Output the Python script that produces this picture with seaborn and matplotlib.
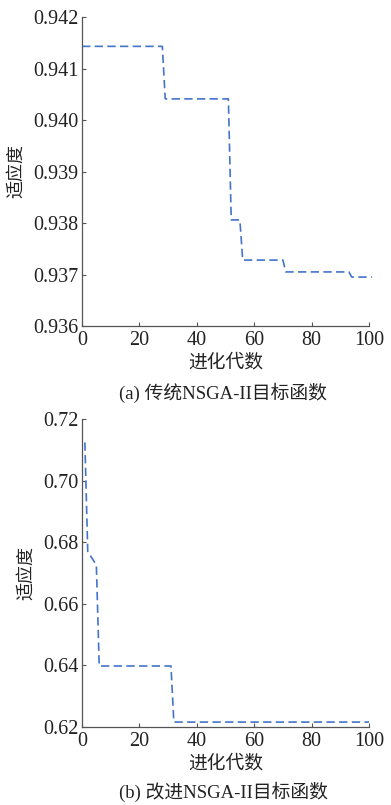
import matplotlib
matplotlib.use("Agg")
import matplotlib.pyplot as plt
import seaborn as sns
import pandas as pd

# Panel (a): traditional NSGA-II (step corner points)
gen_a = [0, 28, 29, 51, 52, 55, 56, 70, 71, 93, 94, 101]
fit_a = [0.94143, 0.94143, 0.94041, 0.94041, 0.93806, 0.93806,
         0.93728, 0.93728, 0.93705, 0.93705, 0.93695, 0.93695]

# Panel (b): improved NSGA-II
gen_b = [1, 2, 5, 6, 31, 32, 100]
fit_b = [0.7124, 0.6770, 0.6726, 0.6398, 0.6398, 0.6216, 0.6216]

xticks = [0, 20, 40, 60, 80, 100]
yticks_a = [0.936, 0.937, 0.938, 0.939, 0.940, 0.941, 0.942]
yticks_b = [0.62, 0.64, 0.66, 0.68, 0.70, 0.72]

xlabel = "进化代数"
ylabel = "适应度"
cap_a = "(a) 传统NSGA-II目标函数"
cap_b = "(b) 改进NSGA-II目标函数"

sns.set_style("ticks")
fam = ["Liberation Serif", "Noto Sans CJK SC"]
plt.rcParams["font.family"] = fam
plt.rcParams["axes.unicode_minus"] = False

W, H = 391, 805
fig = plt.figure(figsize=(W / 100, H / 100), dpi=100)

def px_axes(l, r, t, b):
    return fig.add_axes([l / W, 1 - b / H, (r - l) / W, (b - t) / H])

ax1 = px_axes(82, 369, 17, 326)
ax2 = px_axes(82, 369, 419, 727)

color = "#4474c9"
spine_c = "#555555"

def style(ax, df, yticks, fmt, ylim):
    sns.lineplot(data=df, x="g", y="f", ax=ax, color=color, linewidth=1.2,
                 estimator=None, sort=False)
    ln = ax.lines[-1]
    ln.set_dashes((5, 2.6))
    ln.set_clip_on(False)
    ax.set_xlim(0, 100)
    ax.set_ylim(*ylim)
    ax.set_xticks(xticks)
    ax.set_yticks(yticks)
    ax.set_yticklabels([fmt.format(v) for v in yticks])
    ax.tick_params(direction="in", length=3, width=0.8, colors=spine_c,
                   labelcolor="#222222", labelsize=14.5)
    ax.tick_params(axis="x", pad=3.5)
    ax.tick_params(axis="y", pad=2.5)
    for s in ["top", "right"]:
        ax.spines[s].set_visible(False)
    for s in ["left", "bottom"]:
        ax.spines[s].set_color(spine_c)
        ax.spines[s].set_linewidth(0.9)
    ax.set_xlabel(xlabel, fontsize=13.5, color="#222222", labelpad=3, family=fam)
    ax.set_ylabel(ylabel, fontsize=13, color="#222222", labelpad=6, family=fam)

df_a = pd.DataFrame({"g": gen_a, "f": fit_a})
df_b = pd.DataFrame({"g": gen_b, "f": fit_b})
style(ax1, df_a, yticks_a, "{:.3f}", (0.936, 0.942))
style(ax2, df_b, yticks_b, "{:.2f}", (0.62, 0.72))

fig.text(223 / W, 1 - 393 / H, cap_a, ha="center", va="center",
         fontsize=13.5, color="#222222", family=fam)
fig.text(223 / W, 1 - 792 / H, cap_b, ha="center", va="center",
         fontsize=13.5, color="#222222", family=fam)

fig.savefig("out.png", dpi=100)
